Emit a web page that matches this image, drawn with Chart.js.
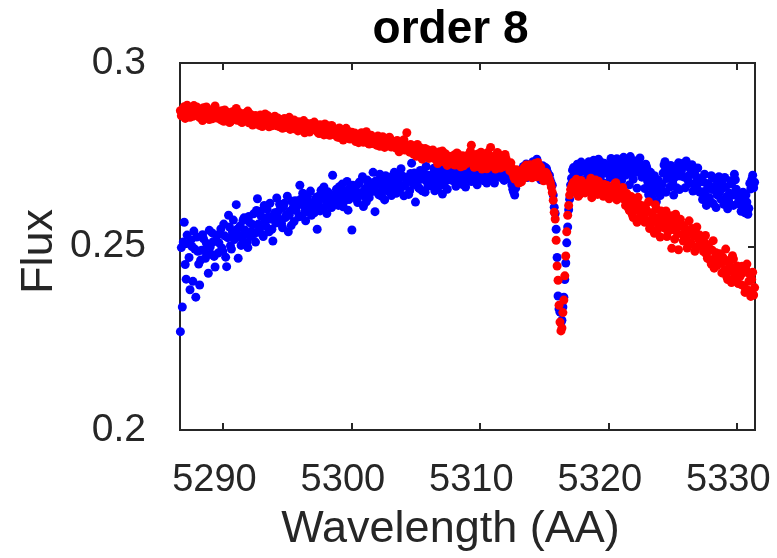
<!DOCTYPE html>
<html>
<head>
<meta charset="utf-8">
<script src="https://cdn.jsdelivr.net/npm/chart.js@4.4.0/dist/chart.umd.min.js"></script>
<style>
  html, body { margin: 0; padding: 0; background: #fff; }
  canvas { display: block; }
</style>
</head>
<body>
<canvas id="chart" width="777" height="558"></canvas>
<script>
const wavelength = [
  5286.65,5286.725,5286.8,5286.875,5286.95,5287.025,5287.1,5287.175,5287.25,5287.325,5287.4,5287.475,5287.55,5287.625,5287.7,5287.775,5287.85,5287.925,5288,5288.075,
  5288.15,5288.225,5288.3,5288.375,5288.45,5288.525,5288.6,5288.675,5288.75,5288.825,5288.9,5288.975,5289.05,5289.125,5289.2,5289.275,5289.35,5289.425,5289.5,5289.575,
  5289.65,5289.725,5289.8,5289.875,5289.95,5290.025,5290.1,5290.175,5290.25,5290.325,5290.4,5290.475,5290.55,5290.625,5290.7,5290.775,5290.85,5290.925,5291,5291.075,
  5291.15,5291.225,5291.3,5291.375,5291.45,5291.525,5291.6,5291.675,5291.75,5291.825,5291.9,5291.975,5292.05,5292.125,5292.2,5292.275,5292.35,5292.425,5292.5,5292.575,
  5292.65,5292.725,5292.8,5292.875,5292.95,5293.025,5293.1,5293.175,5293.25,5293.325,5293.4,5293.475,5293.55,5293.625,5293.7,5293.775,5293.85,5293.925,5294,5294.075,
  5294.15,5294.225,5294.3,5294.375,5294.45,5294.525,5294.6,5294.675,5294.75,5294.825,5294.9,5294.975,5295.05,5295.125,5295.2,5295.275,5295.35,5295.425,5295.5,5295.575,
  5295.65,5295.725,5295.8,5295.875,5295.95,5296.025,5296.1,5296.175,5296.25,5296.325,5296.4,5296.475,5296.55,5296.625,5296.7,5296.775,5296.85,5296.925,5297,5297.075,
  5297.15,5297.225,5297.3,5297.375,5297.45,5297.525,5297.6,5297.675,5297.75,5297.825,5297.9,5297.975,5298.05,5298.125,5298.2,5298.275,5298.35,5298.425,5298.5,5298.575,
  5298.65,5298.725,5298.8,5298.875,5298.95,5299.025,5299.1,5299.175,5299.25,5299.325,5299.4,5299.475,5299.55,5299.625,5299.7,5299.775,5299.85,5299.925,5300,5300.075,
  5300.15,5300.225,5300.3,5300.375,5300.45,5300.525,5300.6,5300.675,5300.75,5300.825,5300.9,5300.975,5301.05,5301.125,5301.2,5301.275,5301.35,5301.425,5301.5,5301.575,
  5301.65,5301.725,5301.8,5301.875,5301.95,5302.025,5302.1,5302.175,5302.25,5302.325,5302.4,5302.475,5302.55,5302.625,5302.7,5302.775,5302.85,5302.925,5303,5303.075,
  5303.15,5303.225,5303.3,5303.375,5303.45,5303.525,5303.6,5303.675,5303.75,5303.825,5303.9,5303.975,5304.05,5304.125,5304.2,5304.275,5304.35,5304.425,5304.5,5304.575,
  5304.65,5304.725,5304.8,5304.875,5304.95,5305.025,5305.1,5305.175,5305.25,5305.325,5305.4,5305.475,5305.55,5305.625,5305.7,5305.775,5305.85,5305.925,5306,5306.075,
  5306.15,5306.225,5306.3,5306.375,5306.45,5306.525,5306.6,5306.675,5306.75,5306.825,5306.9,5306.975,5307.05,5307.125,5307.2,5307.275,5307.35,5307.425,5307.5,5307.575,
  5307.65,5307.725,5307.8,5307.875,5307.95,5308.025,5308.1,5308.175,5308.25,5308.325,5308.4,5308.475,5308.55,5308.625,5308.7,5308.775,5308.85,5308.925,5309,5309.075,
  5309.15,5309.225,5309.3,5309.375,5309.45,5309.525,5309.6,5309.675,5309.75,5309.825,5309.9,5309.975,5310.05,5310.125,5310.2,5310.275,5310.35,5310.425,5310.5,5310.575,
  5310.65,5310.725,5310.8,5310.875,5310.95,5311.025,5311.1,5311.175,5311.25,5311.325,5311.4,5311.475,5311.55,5311.625,5311.7,5311.775,5311.85,5311.925,5312,5312.075,
  5312.15,5312.225,5312.3,5312.375,5312.45,5312.525,5312.6,5312.675,5312.75,5312.825,5312.9,5312.975,5313.05,5313.125,5313.2,5313.275,5313.35,5313.425,5313.5,5313.575,
  5313.65,5313.725,5313.8,5313.875,5313.95,5314.025,5314.1,5314.175,5314.25,5314.325,5314.4,5314.475,5314.55,5314.625,5314.7,5314.775,5314.85,5314.925,5315,5315.075,
  5315.15,5315.225,5315.3,5315.375,5315.45,5315.525,5315.6,5315.675,5315.75,5315.825,5315.9,5315.975,5316.05,5316.125,5316.2,5316.275,5316.35,5316.425,5316.5,5316.575,
  5316.65,5316.725,5316.8,5316.875,5316.95,5317.025,5317.1,5317.175,5317.25,5317.325,5317.4,5317.475,5317.55,5317.625,5317.7,5317.775,5317.85,5317.925,5318,5318.075,
  5318.15,5318.225,5318.3,5318.375,5318.45,5318.525,5318.6,5318.675,5318.75,5318.825,5318.9,5318.975,5319.05,5319.125,5319.2,5319.275,5319.35,5319.425,5319.5,5319.575,
  5319.65,5319.725,5319.8,5319.875,5319.95,5320.025,5320.1,5320.175,5320.25,5320.325,5320.4,5320.475,5320.55,5320.625,5320.7,5320.775,5320.85,5320.925,5321,5321.075,
  5321.15,5321.225,5321.3,5321.375,5321.45,5321.525,5321.6,5321.675,5321.75,5321.825,5321.9,5321.975,5322.05,5322.125,5322.2,5322.275,5322.35,5322.425,5322.5,5322.575,
  5322.65,5322.725,5322.8,5322.875,5322.95,5323.025,5323.1,5323.175,5323.25,5323.325,5323.4,5323.475,5323.55,5323.625,5323.7,5323.775,5323.85,5323.925,5324,5324.075,
  5324.15,5324.225,5324.3,5324.375,5324.45,5324.525,5324.6,5324.675,5324.75,5324.825,5324.9,5324.975,5325.05,5325.125,5325.2,5325.275,5325.35,5325.425,5325.5,5325.575,
  5325.65,5325.725,5325.8,5325.875,5325.95,5326.025,5326.1,5326.175,5326.25,5326.325,5326.4,5326.475,5326.55,5326.625,5326.7,5326.775,5326.85,5326.925,5327,5327.075,
  5327.15,5327.225,5327.3,5327.375,5327.45,5327.525,5327.6,5327.675,5327.75,5327.825,5327.9,5327.975,5328.05,5328.125,5328.2,5328.275,5328.35,5328.425,5328.5,5328.575,
  5328.65,5328.725,5328.8,5328.875,5328.95,5329.025,5329.1,5329.175,5329.25,5329.325,5329.4,5329.475,5329.55,5329.625,5329.7,5329.775,5329.85,5329.925,5330,5330.075,
  5330.15,5330.225,5330.3,5330.375,5330.45,5330.525,5330.6,5330.675,5330.75,5330.825,5330.9,5330.975,5331.05,5331.125,5331.2,5331.275,5331.35
];

// blue spectrum
const fluxBlue = [
  0.2268,0.2497,0.2335,0.2512,0.2566,0.2451,0.2411,0.2531,0.2508,0.2470,0.2382,0.2518,0.2500,0.2405,0.2542,0.2493,0.2362,0.2526,0.2487,0.2452,
  0.2395,0.2463,0.2490,0.2532,0.2521,0.2488,0.2468,0.2509,0.2505,0.2427,0.2544,0.2499,0.2479,0.2537,0.2513,0.2473,0.2444,0.2516,0.2530,0.2482,
  0.2510,0.2535,0.2548,0.2496,0.2487,0.2561,0.2529,0.2471,0.2445,0.2524,0.2585,0.2553,0.2502,0.2493,0.2540,0.2572,0.2519,0.2528,0.2614,0.2547,
  0.2468,0.2530,0.2556,0.2503,0.2520,0.2571,0.2578,0.2545,0.2534,0.2511,0.2497,0.2582,0.2565,0.2527,0.2541,0.2560,0.2589,0.2535,0.2512,0.2598,
  0.2630,0.2561,0.2548,0.2596,0.2582,0.2533,0.2527,0.2612,0.2569,0.2555,0.2601,0.2580,0.2540,0.2618,0.2575,0.2547,0.2515,0.2586,0.2592,0.2564,
  0.2632,0.2594,0.2576,0.2615,0.2603,0.2563,0.2551,0.2608,0.2618,0.2579,0.2587,0.2637,0.2540,0.2585,0.2596,0.2557,0.2623,0.2606,0.2568,0.2625,
  0.2598,0.2612,0.2624,0.2581,0.2667,0.2629,0.2583,0.2645,0.2611,0.2594,0.2570,0.2627,0.2636,0.2606,0.2602,0.2651,0.2585,0.2620,0.2619,0.2592,
  0.2612,0.2634,0.2547,0.2620,0.2638,0.2597,0.2653,0.2641,0.2604,0.2662,0.2629,0.2611,0.2590,0.2649,0.2645,0.2625,0.2618,0.2606,0.2694,0.2639,
  0.2631,0.2644,0.2656,0.2619,0.2612,0.2663,0.2648,0.2635,0.2670,0.2608,0.2623,0.2652,0.2641,0.2677,0.2599,0.2628,0.2659,0.2640,0.2545,0.2667,
  0.2638,0.2655,0.2664,0.2629,0.2620,0.2671,0.2676,0.2643,0.2647,0.2690,0.2609,0.2637,0.2658,0.2622,0.2681,0.2668,0.2633,0.2646,0.2651,0.2674,
  0.2702,0.2660,0.2595,0.2679,0.2668,0.2646,0.2641,0.2697,0.2684,0.2637,0.2656,0.2670,0.2627,0.2693,0.2673,0.2655,0.2650,0.2681,0.2689,0.2639,
  0.2661,0.2683,0.2702,0.2668,0.2645,0.2697,0.2679,0.2650,0.2657,0.2712,0.2693,0.2664,0.2638,0.2689,0.2671,0.2676,0.2686,0.2642,0.2652,0.2699,
  0.2727,0.2685,0.2669,0.2700,0.2621,0.2673,0.2690,0.2661,0.2658,0.2707,0.2683,0.2652,0.2705,0.2688,0.2648,0.2718,0.2676,0.2665,0.2694,0.2681,
  0.2666,0.2684,0.2697,0.2713,0.2652,0.2677,0.2688,0.2659,0.2710,0.2695,0.2674,0.2720,0.2643,0.2668,0.2692,0.2706,0.2679,0.2656,0.2701,0.2690,
  0.2716,0.2694,0.2680,0.2708,0.2699,0.2676,0.2664,0.2721,0.2705,0.2687,0.2672,0.2698,0.2690,0.2669,0.2712,0.2703,0.2662,0.2692,0.2684,0.2715,
  0.2703,0.2689,0.2677,0.2711,0.2715,0.2698,0.2690,0.2726,0.2668,0.2682,0.2707,0.2700,0.2684,0.2718,0.2722,0.2679,0.2695,0.2706,0.2673,0.2692,
  0.2710,0.2695,0.2686,0.2724,0.2719,0.2683,0.2673,0.2708,0.2701,0.2730,0.2728,0.2689,0.2692,0.2712,0.2715,0.2698,0.2680,0.2721,0.2704,0.2687,
  0.2712,0.2703,0.2695,0.2681,0.2668,0.2656,0.2648,0.2640,0.2659,0.2670,0.2677,0.2693,0.2706,0.2684,0.2690,0.2711,0.2718,0.2696,0.2699,0.2725,
  0.2688,0.2705,0.2716,0.2693,0.2701,0.2722,0.2731,0.2711,0.2693,0.2727,0.2738,0.2699,0.2707,0.2719,0.2682,0.2706,0.2720,0.2688,0.2696,0.2715,
  0.2712,0.2703,0.2690,0.2694,0.2680,0.2672,0.2667,0.2640,0.2607,0.2590,0.2547,0.2470,0.2365,0.2330,0.2321,0.2293,0.2299,0.2335,0.2362,0.2410,
  0.2455,0.2510,0.2553,0.2600,0.2629,0.2668,0.2686,0.2708,0.2715,0.2690,0.2698,0.2717,0.2724,0.2696,0.2704,0.2726,0.2730,0.2705,0.2711,0.2682,
  0.2722,0.2706,0.2685,0.2715,0.2731,0.2693,0.2667,0.2711,0.2694,0.2735,0.2726,0.2700,0.2678,0.2724,0.2738,0.2709,0.2690,0.2729,0.2719,0.2673,
  0.2727,0.2701,0.2672,0.2716,0.2720,0.2697,0.2688,0.2740,0.2734,0.2708,0.2661,0.2690,0.2725,0.2739,0.2695,0.2712,0.2731,0.2704,0.2680,0.2729,
  0.2743,0.2718,0.2694,0.2731,0.2737,0.2709,0.2668,0.2745,0.2728,0.2697,0.2683,0.2716,0.2733,0.2702,0.2659,0.2727,0.2705,0.2741,0.2722,0.2689,
  0.2711,0.2692,0.2658,0.2724,0.2716,0.2677,0.2641,0.2698,0.2702,0.2662,0.2630,0.2684,0.2693,0.2650,0.2622,0.2670,0.2681,0.2655,0.2639,0.2663,
  0.2670,0.2700,0.2722,0.2731,0.2648,0.2685,0.2712,0.2695,0.2662,0.2721,0.2706,0.2676,0.2640,0.2699,0.2690,0.2660,0.2716,0.2728,0.2655,0.2692,
  0.2704,0.2716,0.2727,0.2689,0.2660,0.2733,0.2718,0.2680,0.2672,0.2697,0.2711,0.2723,0.2651,0.2670,0.2707,0.2692,0.2665,0.2714,0.2675,0.2648,
  0.2684,0.2649,0.2628,0.2676,0.2697,0.2640,0.2612,0.2658,0.2672,0.2633,0.2622,0.2693,0.2655,0.2617,0.2686,0.2664,0.2606,0.2641,0.2668,0.2690,
  0.2650,0.2629,0.2676,0.2659,0.2615,0.2688,0.2662,0.2636,0.2603,0.2625,0.2645,0.2679,0.2670,0.2640,0.2612,0.2697,0.2682,0.2656,0.2638,0.2620,
  0.2636,0.2614,0.2596,0.2625,0.2648,0.2605,0.2592,0.2640,0.2621,0.2588,0.2604,0.2672,0.2657,0.2683,0.2694,0.2660,0.2675
];

// red spectrum
const fluxRed = [
  0.2870,0.2856,0.2858,0.2877,0.2881,0.2849,0.2864,0.2885,0.2875,0.2863,0.2852,0.2879,0.2869,0.2855,0.2884,0.2866,0.2861,0.2880,0.2873,0.2859,
  0.2851,0.2874,0.2866,0.2843,0.2878,0.2860,0.2855,0.2880,0.2862,0.2852,0.2846,0.2868,0.2871,0.2848,0.2859,0.2877,0.2883,0.2857,0.2850,0.2869,
  0.2864,0.2852,0.2845,0.2870,0.2858,0.2841,0.2872,0.2856,0.2849,0.2866,0.2861,0.2838,0.2840,0.2859,0.2867,0.2847,0.2853,0.2871,0.2876,0.2844,
  0.2846,0.2865,0.2859,0.2840,0.2838,0.2854,0.2862,0.2844,0.2851,0.2866,0.2869,0.2837,0.2842,0.2860,0.2855,0.2831,0.2835,0.2850,0.2857,0.2843,
  0.2848,0.2836,0.2830,0.2858,0.2852,0.2827,0.2839,0.2849,0.2861,0.2833,0.2843,0.2856,0.2826,0.2840,0.2846,0.2829,0.2834,0.2851,0.2855,0.2837,
  0.2829,0.2850,0.2844,0.2826,0.2838,0.2831,0.2822,0.2846,0.2849,0.2824,0.2833,0.2839,0.2841,0.2852,0.2819,0.2828,0.2836,0.2821,0.2845,0.2834,
  0.2832,0.2823,0.2815,0.2840,0.2838,0.2818,0.2826,0.2831,0.2843,0.2810,0.2820,0.2836,0.2829,0.2817,0.2812,0.2833,0.2835,0.2821,0.2824,0.2839,
  0.2817,0.2827,0.2830,0.2810,0.2808,0.2832,0.2825,0.2816,0.2813,0.2804,0.2834,0.2822,0.2806,0.2829,0.2821,0.2803,0.2811,0.2830,0.2826,0.2809,
  0.2804,0.2815,0.2819,0.2798,0.2809,0.2823,0.2796,0.2806,0.2814,0.2790,0.2801,0.2817,0.2822,0.2800,0.2807,0.2813,0.2793,0.2803,0.2811,0.2797,
  0.2798,0.2809,0.2786,0.2795,0.2806,0.2783,0.2792,0.2804,0.2810,0.2789,0.2784,0.2799,0.2800,0.2813,0.2791,0.2782,0.2779,0.2796,0.2803,0.2788,
  0.2787,0.2780,0.2797,0.2790,0.2776,0.2801,0.2793,0.2773,0.2781,0.2789,0.2799,0.2777,0.2770,0.2794,0.2788,0.2783,0.2778,0.2798,0.2792,0.2771,
  0.2775,0.2783,0.2786,0.2771,0.2768,0.2789,0.2780,0.2758,0.2762,0.2776,0.2779,0.2784,0.2791,0.2763,0.2766,0.2810,0.2773,0.2769,0.2757,0.2778,
  0.2770,0.2759,0.2752,0.2772,0.2764,0.2746,0.2778,0.2757,0.2749,0.2769,0.2761,0.2738,0.2744,0.2756,0.2767,0.2751,0.2755,0.2763,0.2740,0.2748,
  0.2751,0.2742,0.2763,0.2756,0.2739,0.2747,0.2754,0.2726,0.2732,0.2758,0.2748,0.2740,0.2760,0.2731,0.2736,0.2753,0.2744,0.2721,0.2729,0.2746,
  0.2741,0.2733,0.2725,0.2744,0.2749,0.2722,0.2734,0.2755,0.2752,0.2739,0.2728,0.2717,0.2738,0.2747,0.2720,0.2735,0.2745,0.2726,0.2731,0.2750,
  0.2744,0.2760,0.2776,0.2735,0.2729,0.2716,0.2750,0.2743,0.2718,0.2752,0.2738,0.2728,0.2757,0.2711,0.2724,0.2749,0.2741,0.2730,0.2712,0.2756,
  0.2733,0.2748,0.2770,0.2725,0.2719,0.2738,0.2745,0.2711,0.2727,0.2756,0.2752,0.2731,0.2714,0.2744,0.2736,0.2717,0.2722,0.2751,0.2740,0.2729,
  0.2725,0.2717,0.2706,0.2728,0.2714,0.2698,0.2690,0.2684,0.2701,0.2709,0.2682,0.2673,0.2695,0.2688,0.2676,0.2699,0.2705,0.2716,0.2688,0.2722,
  0.2712,0.2704,0.2695,0.2723,0.2720,0.2687,0.2703,0.2714,0.2726,0.2700,0.2690,0.2729,0.2708,0.2693,0.2717,0.2706,0.2698,0.2679,0.2684,0.2702,
  0.2700,0.2695,0.2688,0.2680,0.2673,0.2662,0.2647,0.2626,0.2593,0.2575,0.2517,0.2447,0.2408,0.2340,0.2294,0.2270,0.2278,0.2320,0.2354,0.2420,
  0.2474,0.2540,0.2585,0.2612,0.2640,0.2655,0.2662,0.2670,0.2675,0.2652,0.2648,0.2683,0.2668,0.2637,0.2641,0.2665,0.2680,0.2646,0.2655,0.2671,
  0.2646,0.2663,0.2672,0.2649,0.2660,0.2675,0.2686,0.2633,0.2639,0.2657,0.2665,0.2681,0.2651,0.2642,0.2678,0.2668,0.2644,0.2655,0.2662,0.2637,
  0.2669,0.2651,0.2642,0.2666,0.2657,0.2630,0.2635,0.2659,0.2663,0.2644,0.2648,0.2671,0.2674,0.2627,0.2638,0.2652,0.2655,0.2640,0.2632,0.2661,
  0.2650,0.2628,0.2612,0.2645,0.2641,0.2605,0.2598,0.2624,0.2636,0.2587,0.2579,0.2617,0.2630,0.2600,0.2566,0.2634,0.2615,0.2576,0.2590,0.2608,
  0.2611,0.2583,0.2566,0.2604,0.2596,0.2571,0.2622,0.2549,0.2553,0.2592,0.2588,0.2568,0.2536,0.2614,0.2603,0.2545,0.2562,0.2580,0.2526,0.2597,
  0.2582,0.2566,0.2551,0.2578,0.2597,0.2527,0.2540,0.2559,0.2570,0.2584,0.2495,0.2546,0.2562,0.2520,0.2588,0.2568,0.2535,0.2491,0.2555,0.2574,
  0.2561,0.2533,0.2515,0.2556,0.2548,0.2522,0.2496,0.2540,0.2570,0.2505,0.2510,0.2549,0.2541,0.2528,0.2487,0.2537,0.2553,0.2500,0.2519,0.2531,
  0.2524,0.2507,0.2498,0.2486,0.2511,0.2530,0.2479,0.2468,0.2505,0.2494,0.2462,0.2452,0.2490,0.2516,0.2441,0.2470,0.2483,0.2448,0.2457,0.2476,
  0.2480,0.2455,0.2428,0.2471,0.2460,0.2437,0.2493,0.2418,0.2410,0.2462,0.2452,0.2433,0.2402,0.2475,0.2466,0.2412,0.2421,0.2440,0.2447,0.2399,
  0.2441,0.2419,0.2396,0.2446,0.2428,0.2392,0.2375,0.2437,0.2452,0.2381,0.2405,0.2424,0.2364,0.2410,0.2430,0.2368,0.2388
];

const xTicks = [5290, 5300, 5310, 5320, 5330];
const yTicks = [0.2, 0.25, 0.3];
const yTickLabels = ['0.2', '0.25', '0.3'];
const chartTitle = 'order 8';
const xTitle = 'Wavelength (AA)';
const yTitle = 'Flux';

const axisColor = '#262626';
const fontFamily = '"Liberation Sans", Arial, Helvetica, sans-serif';

function toPoints(values) {
    return wavelength.map((w, i) => ({ x: w, y: values[i] }));
}

// MATLAB-like box with inward ticks, plus titles
const axesBox = {
    id: 'axesBox',
    beforeDatasetsDraw(chart) {
        const { ctx, chartArea: a, scales } = chart;
        ctx.save();
        ctx.strokeStyle = axisColor;
        ctx.lineWidth = 2;
        ctx.strokeRect(a.left, a.top, a.right - a.left, a.bottom - a.top);
        ctx.beginPath();
        xTicks.forEach(v => {
            const px = Math.round(scales.x.getPixelForValue(v));
            ctx.moveTo(px, a.bottom); ctx.lineTo(px, a.bottom - 7);
            ctx.moveTo(px, a.top); ctx.lineTo(px, a.top + 7);
        });
        yTicks.forEach(v => {
            const py = Math.round(scales.y.getPixelForValue(v));
            ctx.moveTo(a.left, py); ctx.lineTo(a.left + 7, py);
            ctx.moveTo(a.right, py); ctx.lineTo(a.right - 7, py);
        });
        ctx.stroke();
        ctx.restore();
    },
    afterDraw(chart) {
        const { ctx, chartArea: a } = chart;
        const cx = (a.left + a.right) / 2 - 17;
        ctx.save();
        ctx.textAlign = 'center';
        ctx.textBaseline = 'alphabetic';
        ctx.fillStyle = '#000';
        ctx.font = 'bold 46px ' + fontFamily;
        ctx.fillText(chartTitle, cx, 43);
        ctx.fillStyle = axisColor;
        ctx.font = '45px ' + fontFamily;
        ctx.fillText(xTitle, cx, 542);
        ctx.translate(52, (a.top + a.bottom) / 2 + 5);
        ctx.rotate(-Math.PI / 2);
        ctx.fillText(yTitle, 0, 0);
        ctx.restore();
    }
};

const config = {
    type: 'scatter',
    data: {
        datasets: [{
            label: 'red',
            data: toPoints(fluxRed),
            backgroundColor: '#ff0000',
            borderWidth: 0,
            pointRadius: 4.5,
            pointHoverRadius: 4.5,
            clip: false,
            order: 1,
        }, {
            label: 'blue',
            data: toPoints(fluxBlue),
            backgroundColor: '#0000ff',
            borderWidth: 0,
            pointRadius: 4.5,
            pointHoverRadius: 4.5,
            clip: false,
            order: 2,
        }],
    },
    plugins: [axesBox],
    options: {
        responsive: false,
        animation: false,
        events: [],
        layout: {
            padding: { left: 0, right: 22, top: 63, bottom: 0 },
        },
        plugins: {
            legend: { display: false },
            tooltip: { enabled: false },
        },
        scales: {
            x: {
                type: 'linear',
                min: 5286.62,
                max: 5331.38,
                grid: { display: false },
                border: { display: false },
                afterBuildTicks: s => { s.ticks = xTicks.map(v => ({ value: v })); },
                afterFit: s => { s.height = 128; s.paddingLeft = 0; s.paddingRight = 0; },
                ticks: {
                    color: axisColor,
                    font: { family: fontFamily, size: 38 },
                    padding: 20,
                    labelOffset: -9,
                    maxRotation: 0,
                    callback: v => String(v),
                },
            },
            y: {
                type: 'linear',
                min: 0.2,
                max: 0.3,
                grid: { display: false },
                border: { display: false },
                afterBuildTicks: s => { s.ticks = yTicks.map(v => ({ value: v })); },
                afterFit: s => { s.width = 180; s.paddingTop = 0; s.paddingBottom = 0; },
                ticks: {
                    color: axisColor,
                    font: { family: fontFamily, size: 39 },
                    padding: 26,
                    callback: (v, i) => yTickLabels[i],
                },
            },
        },
    },
};

new Chart(document.getElementById('chart').getContext('2d'), config);
</script>
</body>
</html>
